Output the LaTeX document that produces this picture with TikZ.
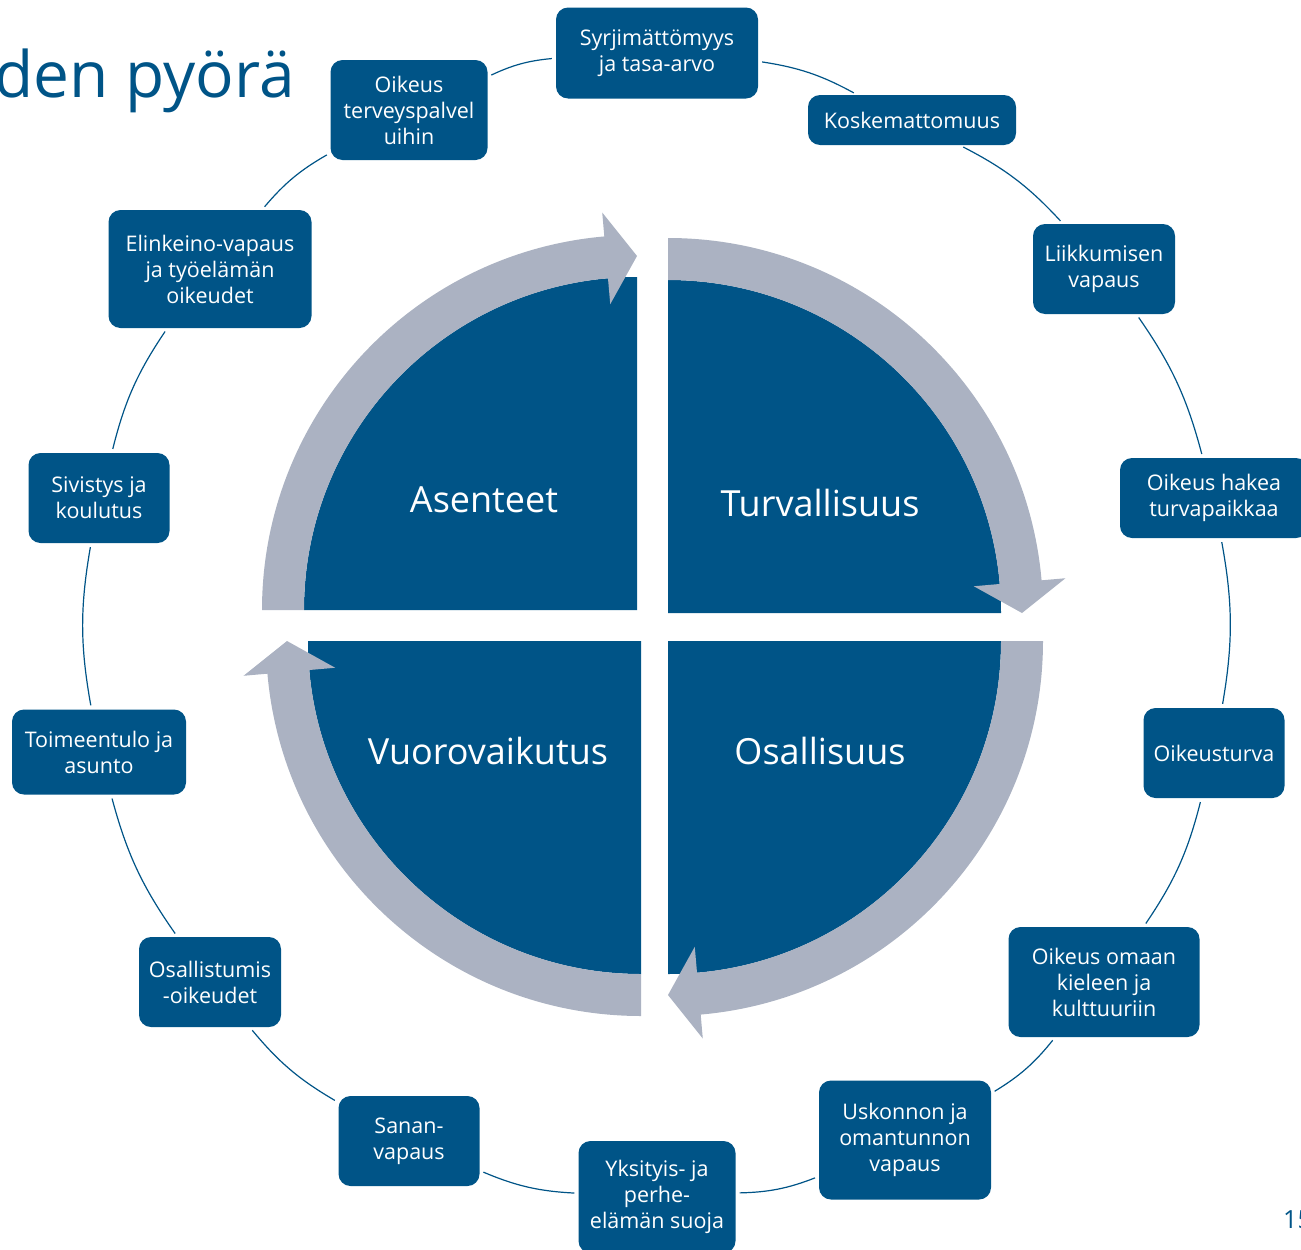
\documentclass[tikz,border=0pt]{standalone}
\usepackage{fontspec}
\setmainfont{Open Sans}
\usetikzlibrary{calc}
\definecolor{wheelblue}{RGB}{0,84,135}
\definecolor{wheelgray}{RGB}{171,178,194}

\tikzset{
  box/.style 2 args={fill=wheelblue, text=white, rounded corners=12pt, align=center,
    inner sep=0pt, minimum width=#1pt, minimum height=#2pt,
    font=\fontsize{21.5}{26}\selectfont},
  part/.style={text=white, font=\fontsize{36}{40}\selectfont, anchor=base},
}

% one quarter of the wheel with its arrow: centre x, centre y, start angle
\newcommand{\wheelpart}[3]{
  \fill[wheelblue] (#1,#2) -- ++(#3:333) arc[start angle=#3, end angle=#3+90, radius=333] -- cycle;
  \fill[wheelgray] (#1,#2) ++(#3:375) arc[start angle=#3, end angle=#3+85, radius=375]
    -- ($(#1,#2)+(#3+85:399)$) -- ($(#1,#2)+(#3+90:354)$) -- ($(#1,#2)+(#3+85:307)$)
    -- ($(#1,#2)+(#3+85:333)$) arc[start angle=#3+85, end angle=#3, radius=333] -- cycle;
}

\begin{document}
\begin{tikzpicture}[x=1pt, y=-1pt]
			\useasboundingbox (0,0) rectangle (1301,1250);
			\clip (0,0) rectangle (1301,1250);

			\node[anchor=base east, inner sep=0pt, text=wheelblue, font=\fontsize{64}{70}\selectfont] (title) at (295,97) {den pyörä};
			\node[anchor=base west, inner sep=0pt, text=wheelblue, font=\fontsize{25}{30}\selectfont] (page) at (1283,1228) {15};

			\wheelpart{637}{610}{180}
			\wheelpart{668}{613}{270}
			\wheelpart{668}{641}{0}
			\wheelpart{641}{641}{90}

			\node[part] (A) at (484,512) {Asenteet};
			\node[part] (T) at (820,516) {Turvallisuus};
			\node[part] (V) at (488,764) {Vuorovaikutus};
			\node[part] (O) at (820,764) {Osallisuus};

			\node[box={202}{91}] (1) at (657,53) {Syrjimättömyys\\ja tasa-arvo};
			\node[box={208}{50}] (2) at (912,120) {Koskemattomuus};
			\node[box={142}{90}] (3) at (1104,269) {Liikkumisen\\vapaus};
			\node[box={188}{80}] (4) at (1214,498) {Oikeus hakea\\turvapaikkaa};
			\node[box={141}{90}] (5) at (1214,753) {Oikeusturva};
			\node[box={191}{110}] (6) at (1104,982) {Oikeus omaan\\kieleen ja\\kulttuuriin};
			\node[box={172}{119}] (7) at (905,1140) {Uskonnon ja\\omantunnon\\vapaus};
			\node[box={157}{112}] (8) at (657,1197) {Yksityis- ja\\perhe-\\elämän suoja};
			\node[box={141}{90}] (9) at (409,1141) {Sanan-\\vapaus};
			\node[box={142}{90}] (10) at (210,982) {Osallistumis\\-oikeudet};
			\node[box={174}{85}] (11) at (99,752) {Toimeentulo ja\\asunto};
			\node[box={141}{90}] (12) at (99,498) {Sivistys ja\\koulutus};
			\node[box={203}{118}] (13) at (210,269) {Elinkeino-vapaus\\ja työelämän\\oikeudet};
			\node[box={157}{100}] (14) at (409,110) {Oikeus\\terveyspalvel\\uihin};

			\path[every edge/.style={draw=wheelblue, line width=1.2pt, shorten <=4pt, shorten >=4pt}]
				(1) edge[bend left=10] (2)
				(2) edge[bend left=10] (3)
				(3) edge[bend left=10] (4)
				(4) edge[bend left=10] (5)
				(5) edge[bend left=10] (6)
				(6) edge[bend left=10] (7)
				(7) edge[bend left=10] (8)
				(8) edge[bend left=10] (9)
				(9) edge[bend left=10] (10)
				(10) edge[bend left=10] (11)
				(11) edge[bend left=10] (12)
				(12) edge[bend left=10] (13)
				(13) edge[bend left=10] (14)
				(14) edge[bend left=10] (1)
			;
		\end{tikzpicture}
\end{document}
